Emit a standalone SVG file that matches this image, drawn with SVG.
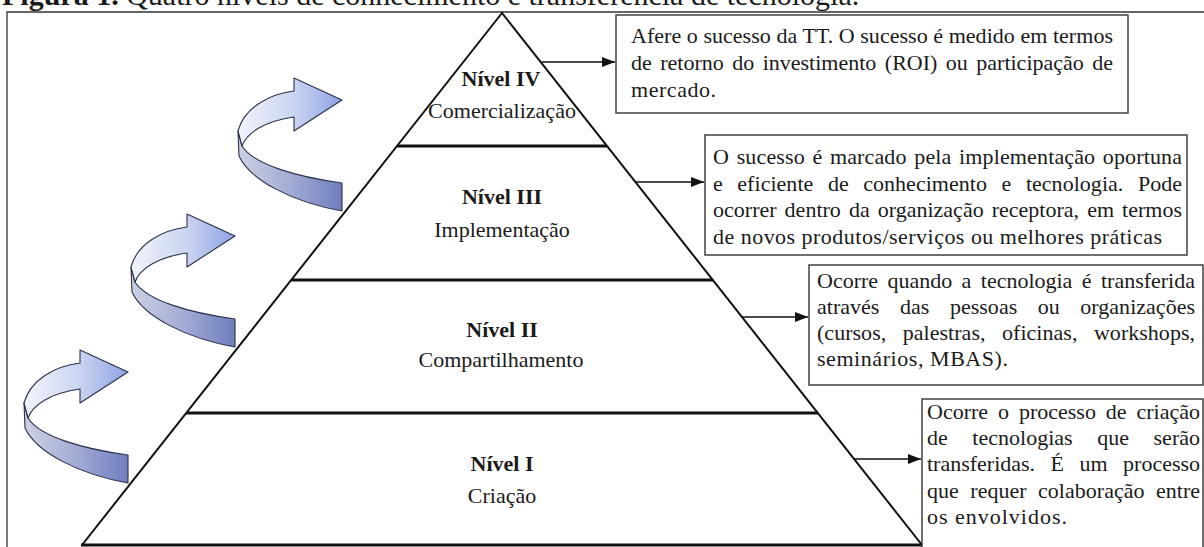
<svg xmlns="http://www.w3.org/2000/svg" width="1204" height="547" viewBox="0 0 1204 547">
<style>
.t{font-family:"Liberation Serif","Times New Roman",serif;font-size:22px;fill:#1a1a1a}
.b{font-weight:bold}
.c{text-anchor:middle}
.box{fill:#fff;stroke:#333;stroke-width:1.4}
.lvl{stroke:#111;stroke-width:2.8;fill:none}
.side{stroke:#111;stroke-width:2;fill:none}
.conn{stroke:#111;stroke-width:1.5;fill:none;marker-end:url(#ah)}
.rib{stroke:#2b3048;stroke-width:1.1;stroke-linejoin:round}
</style>
<defs>
<marker id="ah" markerWidth="13" markerHeight="10" refX="13" refY="5" orient="auto" markerUnits="userSpaceOnUse">
<path d="M0,0 L13,5 L0,10 Z" fill="#111"/>
</marker>
<linearGradient id="gTop" x1="0" y1="0" x2="1" y2="0">
<stop offset="0" stop-color="#f3f4fb"/>
<stop offset="0.55" stop-color="#c9d3f1"/>
<stop offset="1" stop-color="#8da2e2"/>
</linearGradient>
<linearGradient id="gBand" x1="0" y1="0" x2="1" y2="0">
<stop offset="0" stop-color="#cdd1e4"/>
<stop offset="0.5" stop-color="#a3acd4"/>
<stop offset="1" stop-color="#6f7ebf"/>
</linearGradient>
<g id="curl">
<path class="rib" fill="url(#gBand)" d="M24,403 L25,428 C36,452 78,474 128,483 L128,455 C84,449 40,437 28,418 Z"/>
<path class="rib" fill="url(#gTop)" d="M24,403 C30,380 55,366 80,363 L80,350 L128,372 L80,403 L80,389 C52,393 33,404 28,418 Z"/>
</g>
</defs>
<rect width="1204" height="547" fill="#fff"/>
<text class="t" x="2" y="5" style="font-size:30px"><tspan class="b">Figura 1.</tspan> Quatro níveis de conhecimento e transferência de tecnologia.</text>
<path d="M7,547 V12 H1204" fill="none" stroke="#333" stroke-width="1.3"/>

<g id="curl-arrows">
<use id="curl-1" href="#curl"/>
<use id="curl-2" href="#curl" transform="translate(107,-136)"/>
<use id="curl-3" href="#curl" transform="translate(214,-272)"/>
</g>

<g id="pyramid">
<path class="side" d="M82,545 L502,13 L922,545"/>
<path class="lvl" d="M81,545 H923"/>
</g>
<g id="level-4">
<path class="lvl" d="M397,146 H607"/>
<text class="t b c" x="501" y="86">Nível IV</text>
<text class="t c" x="502" y="118">Comercialização</text>
</g>
<g id="level-3">
<path class="lvl" d="M291,280 H713"/>
<text class="t b c" x="502" y="204">Nível III</text>
<text class="t c" x="502" y="237">Implementação</text>
</g>
<g id="level-2">
<path class="lvl" d="M186,413 H818"/>
<text class="t b c" x="502" y="337">Nível II</text>
<text class="t c" x="501" y="367">Compartilhamento</text>
</g>
<g id="level-1">
<text class="t b c" x="502" y="471">Nível I</text>
<text class="t c" x="502" y="503">Criação</text>
</g>

<g id="box-4">
<rect class="box" x="616" y="15" width="512" height="98"/>
<text class="t" x="631" y="43" textLength="482">Afere o sucesso da TT. O sucesso é medido em termos</text>
<text class="t" x="631" y="70" word-spacing="3" textLength="482">de retorno do investimento (ROI) ou participação de</text>
<text class="t" x="631" y="97" textLength="85">mercado.</text>
</g>
<g id="box-3">
<rect class="box" x="705" y="135" width="482" height="120"/>
<text class="t" x="713" y="164" word-spacing="2" textLength="469">O sucesso é marcado pela implementação oportuna</text>
<text class="t" x="713" y="191" word-spacing="9" textLength="469">e eficiente de conhecimento e tecnologia. Pode</text>
<text class="t" x="713" y="217" word-spacing="2.5" textLength="469">ocorrer dentro da organização receptora, em termos</text>
<text class="t" x="713" y="244" textLength="449">de novos produtos/serviços ou melhores práticas</text>
</g>
<g id="box-2">
<rect class="box" x="809" y="265" width="394" height="120"/>
<text class="t" x="817" y="288" word-spacing="3.9" textLength="378">Ocorre quando a tecnologia é transferida</text>
<text class="t" x="817" y="314" word-spacing="15" textLength="378">através das pessoas ou organizações</text>
<text class="t" x="817" y="340" word-spacing="11" textLength="378">(cursos, palestras, oficinas, workshops,</text>
<text class="t" x="817" y="366" textLength="191">seminários, MBAS).</text>
</g>
<g id="box-1">
<rect class="box" x="922" y="399" width="281" height="150"/>
<text class="t" x="927" y="419" word-spacing="4.4" textLength="273">Ocorre o processo de criação</text>
<text class="t" x="927" y="445" word-spacing="19" textLength="273">de tecnologias que serão</text>
<text class="t" x="927" y="471" word-spacing="10" textLength="273">transferidas. É um processo</text>
<text class="t" x="927" y="498" word-spacing="6" textLength="273">que requer colaboração entre</text>
<text class="t" x="927" y="524" textLength="140">os envolvidos.</text>
</g>

<g id="connectors">
<path class="conn" d="M542,62 H615"/>
<path class="conn" d="M636,182 H704"/>
<path class="conn" d="M742,317 H808"/>
<path class="conn" d="M854,459 H921"/>
</g>
</svg>
